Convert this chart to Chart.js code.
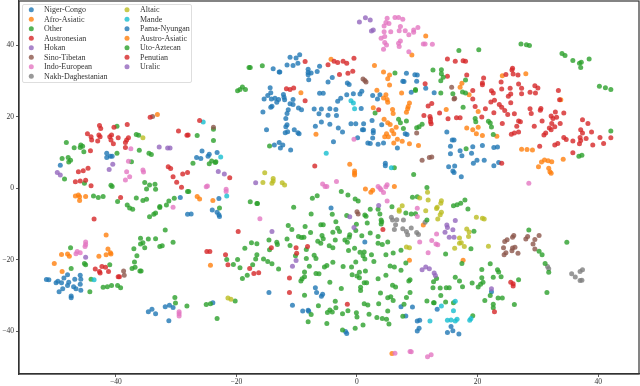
<!DOCTYPE html>
<html>
<head>
<meta charset="utf-8">
<script src="https://cdn.jsdelivr.net/npm/chart.js"></script>
<style>
  html, body { margin: 0; padding: 0; background: #fff; }
  canvas { display: block; }
</style>
</head>
<body>
<canvas id="chart" width="640" height="386"></canvas>
<script>
const categories = ['Niger-Congo', 'Afro-Asiatic', 'Other', 'Austronesian', 'Hokan', 'Sino-Tibetan', 'Indo-European', 'Nakh-Daghestanian', 'Altaic', 'Mande', 'Pama-Nyungan', 'Austro-Asiatic', 'Uto-Aztecan', 'Penutian', 'Uralic'];
const colors = ['#1f77b4', '#ff7f0e', '#2ca02c', '#d62728', '#9467bd', '#8c564b', '#e377c2', '#7f7f7f', '#bcbd22', '#17becf', '#1f77b4', '#ff7f0e', '#2ca02c', '#d62728', '#9467bd'];
const xTicks = [-40, -20, 0, 20, 40];
const yTicks = [-40, -20, 0, 20, 40];

const nigerCongo = [[-41.5,9.8],[-41.5,8.6],[-40.9,8.9],[-40.6,8.9],[-49.2,6.4],[-25.7,10.4],[-26.6,8.6],[-25.9,8.3],[-24.5,9.5],[-24.7,8.9],[-29.3,-2.6],[-24,-6.1],[-28.1,-7.3],[-27.5,-7.2],
  [-34.6,-34.5],[-34,-33.8],[-33.4,-35.1],[-31.8,-33.1],[-31.1,-32.7],[-30.5,-33.3],[-31.2,-37],[-23.9,-32],
  [-11.1,36.6],[-10.1,36.4],[-9.5,37.3],[-11.6,34.4],[-10.6,34.3],[-9.8,34.9],[-13.9,33.4],[-12.9,32.5],[-12.8,32.5],[-8.1,33.2],[-6.2,34.1],[-6.6,32.6],[-8.1,32.3],[-8.1,31.7],[-7.6,32.2],[-8,30.3],[-4.1,30.9],[-4.8,29.7],[-1.6,29.4],[-1.3,29],
  [-14.4,28.1],[-14.3,26.7],[-14.8,25.9],[-15.4,24.9],[-14.2,24.9],[-13.6,25.1],[-13,24.8],[-13.3,24],[-12.2,26.2],[-12.1,25.4],[-12,24.7],[-10.6,24.8],[-11.1,23.6],[-10.6,23.4],[-14.1,22.9],[-14.3,22.6],[-15.6,21.3],[-11.4,21.9],[-11.6,20.9],[-11.8,19.5],[-9.7,22.4],[-9.2,21.9],[-11.6,17.7],
  [-6.2,26.5],[-5.6,26.5],[-2.7,25.1],[-3.2,24.3],[-1.7,26.1],[-0.6,26.4],[0.5,26.3],[0.8,27.1],[2.6,25.9],[3.8,26.1],[3.4,24.9],[-7.1,22.1],[-5.9,22.1],[-6.3,20.8],[-4.5,22.2],[-4.8,20.4],[-3.5,22],[-3.4,20.3],[0.7,22.3],[2.5,18.9],[-5.9,18.5],[-4.5,17.9],[-1,18],[-0.2,18],[1.1,18],
  [7.6,29.9],[7.8,29.8],[8.2,32.1],[9.6,31.7],[10,31.6],[9.9,29.9],[9,26.8],[11.4,27.9],[12.8,26.7],
  [-23.2,10],[-15,16.3],[-11.8,17.2],[-11.9,15.5],[-11.5,15.8],[-10.4,16.3],[-9.8,15.5],[-9.6,15.2],[-12.9,12.8],[-12.3,12.1],[-13.7,12.1],[-12.7,11.2],[-11,10.7],[-6.9,17.3],[-3.1,16.8],[-2.4,15.7],[-3.9,13],[0.9,16.3],[1.1,16.3],[2.7,16.1],[2.7,15.5],[0.1,14.1],[2.6,14],[1.8,12.6],[2.2,12.5],[3.5,12.3],[4.4,12.6],[4.1,17.7],[6.7,11.2],[8,15.2],[8.3,15],[4.7,7],[4.7,6.3],
  [-22.9,-2.9],[-23.2,-6.7],[-22.9,-7.4],[-22.8,-7.9],[-4.3,-5.5],[1.3,-15],
  [-14.6,-29.1],[-10.7,-32.7],[-6.9,-27.8],[-6.7,-29.1],[-5.7,-29.6],[-5.9,-30.2],[-9,-34.3],[-8.1,-34.1],[-8,-34.4],[-1.9,-40],[-1.7,-40.6],[7.3,-33.1],[9.2,-33.2],[8.1,-35.7],[10,-37.1],[10.4,-36.9],[10.3,-39.1],[10,-39.9],
  [22.3,-28.9],[13.3,-33.8],[15.6,-38.6],[15.9,-39.8],[15,-40.3],[16.9,-40.7],
  [14.9,15.7],[15.8,13.5],[16.1,13.5],[15.5,11.7],[15.5,9.6],[17.1,10.5],[17.4,9.1],[19.2,11.6],[19,9.8],[20.8,11.9],[22.7,11.4],[23.3,11.5],[19.9,7.8],[19.3,7],[21.1,7.8],[23.5,7.2],[22.7,6.3],[15.2,6],[16.2,6.2],[15.9,4.8],[16.1,4.4],[17.3,3.2]];
const afroAsiatic = [[-4.3,36],[2.9,34.3],[4.4,32.5],[5.4,31.6],[5.1,30.6],[5.4,28.8],[3.3,27.4],[7.4,26.6],[4.8,26.1],[4.4,25.2],[5,24.8],[5.1,24],[8.7,23.8],[8.5,22.8],[8.4,22.2],[8.2,21.2],[2.7,22.5],[5.9,22],[6,20.9],[4.5,19.3],[5.1,18.3],[5.5,17.8],[-9.3,26.7],[9.1,37.2],[11.4,42.5],
  [-6.8,15.1],[4.6,14.4],[4.9,15.2],[5.2,14.4],[5.8,16.1],[6.1,15.2],[6.5,17],[6.7,13.7],[7.5,13.1],[6.1,12.6],[8.7,12.4],[10.2,11.9],[-1.2,6.7],[-0.4,4.8],[-0.4,4.2],[-0.4,3.7],[1.4,-0.2],[2.6,-0.6],[2.3,-1.1],[6.2,0.5],[11,-10.3],
  [8.7,-20.1],[5.8,-46.2],[17.6,-20.1],
  [23.2,14.5],[19.2,16.3],[19.8,15.2],[20.1,17],[20.8,14.7],[18.2,16.8],[24.1,31.4],[28,32],[17.4,29.3],[17.1,28.2],[18.6,26.1],[14.8,22],[20.1,21.4],[33.8,24.7]];
const other = [[-39.8,17.3],[-36.6,15],[-36.2,14.8],[-26.5,14.7],[-23.8,13.3],[-48.2,12.8],[-45.8,12.1],[-45.5,11.7],[-46.9,11.3],[-45.9,11.4],[-45.3,10.2],[-39.8,9.8],[-36.1,10.6],[-34.5,9.8],[-34.1,9.4],[-48.9,8.3],[-47.9,8.6],[-47.5,7.8],[-47.8,7.3],[-37.4,7.4],[-27.2,7],[-24.5,6.8],[-24.1,7.6],[-23.5,7.2],[-48.5,2.6],[-45.2,1.4],[-35.2,1.6],[-34.4,0.9],[-33.5,1.1],[-40.8,0.8],[-40.6,0.5],[-34.9,-0.2],[-33.4,-0.3],[-28.1,-0.9],[-27.9,-0.9],[-43.7,-2.2],[-42.9,-2.6],[-42.1,-2.3],[-39.7,-3.7],[-36.6,-2.7],[-35.5,-3.4],[-34.9,-3.1],[-30.3,-2.8],[-31.2,-3.6],[-32.7,-5.1],[-32.7,-5.4],[-31.6,-4.7],[-38.1,-4.7],[-37.7,-5.5],[-37.2,-5.9],[-34.4,-8],[-33.7,-7.3],[-33.4,-6.9],[-31.8,-11.7],[-35.9,-14],[-34.6,-14.2],[-33.4,-14.1],[-35.5,-15.2],[-35.9,-15.6],[-30.5,-15.1],[-32.7,-16.3],[-32.3,-16.1],[-35.2,-16.6],[-37,-16.9],[-47.5,-16.6],
  [-47.4,-22.4],[-45.2,-21],[-45,-21.4],[-41,-21.4],[-44.1,-25.4],[-44.3,-28.9],[-42.1,-27.7],[-41.4,-27.5],[-40.7,-27.2],[-39.7,-27.2],[-39.2,-27.8],[-36.5,-18.9],[-36.9,-20.6],[-37.3,-22.4],[-36.8,-22.1],[-36,-23.1],[-35.8,-23.1],[-30.2,-30.5],[-30.1,-32.1],[-28.2,-32.9],[-25,-32.5],[-24.3,-32.3],
  [6.3,32.2],[9.7,27.6],[9.7,27.3],[3,21],[6.9,19.3],[7.2,18.3],[8.2,18.8],
  [-14.5,11.8],[-23.8,16.5],[-23.4,7.4],[9.9,16.9],[10.3,17.2],[10.8,17.9],[7.7,16.7],[6.2,5.7],[9.4,3.8],[-2.6,-0.9],[-1.5,-1.9],[-7.4,-2.8],[-6.6,-2.1],[-0.3,-3],[0.2,-3.6],[-17.7,-3.8],[-16.6,-4.3],[-16.5,-4.3],[-10.5,-5.3],[-22.8,-5.5],[-7.6,-7.2],[-4.1,-7.3],[-1.7,-7.6],[2.2,-5.9],[3.5,-5.9],[3.8,-7.2],[5.8,-5.2],[8.1,-6.9],[9,-7.2],[9.7,-7.1],[9.2,-2.5],[10,-2.4],[1.3,-7.5],[1.5,-7.8],[-3.5,-9.4],[-6,-10.2],[-5.6,-10.2],[1.7,-9.7],[4,-8.9],[4.1,-9.4],[4,-10],[-11.4,-10.4],[-10.8,-11.5],[-8.6,-10.7],[-7.7,-12.4],[-3.2,-11.2],[-2.9,-12.1],[-4,-12.3],[-0.1,-10.1],[-0.2,-11.8],[-1.2,-13],[-1.3,-13.7],[-2,-14.5],[-1.6,-15.1],[-3.6,-14.5],[-5.8,-13.2],[-5.6,-14.1],[-6.5,-14.8],[-6,-15.4],[-9.7,-13.5],[-9.2,-13.8],[-8.8,-13.7],[-11.6,-14.2],[-14.6,-14.5],[-13.3,-15.1],[-13.2,-15.7],[-17.5,-15.2],[-16.6,-15.5],[0.8,-13.3],[2.2,-12.5],[3.5,-13.5],[5.1,-15],[4.2,-15.7],[3.5,-15.4],
  [-18.6,-16.8],[-16.6,-18.6],[-16.8,-19.8],[-19.8,-19.9],[-21.6,-19.9],[-20.5,-21.3],[-19.4,-22.2],[-17.3,-21.4],[-15.5,-19.8],[-14.8,-20.5],[-14.1,-21.1],[-13,-22.6],[-18.2,-24.3],[-19,-25.2],[-8.7,-23.4],[-8.7,-24.7],[-9.1,-25.3],[-9.3,-25.9],[-7.9,-21.8],[-8.4,-19.6],[-10.2,-18.9],[-7.1,-18.7],[-6.8,-19.6],[-8.4,-17.1],[-14.5,-17.2],[-11.1,-16],[-4.6,-16.1],[-4,-16.6],[-1.4,-17.4],[-0.4,-16.8],[0.5,-17.9],[1.2,-17.8],[1,-18.9],[1.3,-19.8],[2.4,-18.6],[2.8,-20.5],[4.8,-18.6],[6,-18.1],[7.3,-17.3],[8.1,-20.9],[5.5,-21.7],[6.2,-22],[7.3,-22.9],[4.8,-24.3],[3.5,-25.3],[1.4,-23.1],[0.4,-23.5],[-0.8,-24.2],[0,-24.5],[0.4,-25],[-0.2,-20.6],[-0.9,-22],[-2.3,-21.9],[-4,-20.7],[-5,-21.6],[-5.4,-22],[-6.8,-23.8],[-6.3,-23.9],[-4.5,-26.3],[1.2,-26.4],[1.6,-26.4],[0.6,-27.7],[0.6,-28.6],[-2.6,-28],[-8.7,-29.9],[3.9,-29.3],[5.9,-27.1],[6.4,-27.6],[8.6,-25.9],[8.8,-25.6],[8.8,-29.1],[5.1,-30.6],[5.6,-30.3],[6,-31.4],[8.2,-30.5],[7.8,-32.4],[3.6,-32.3],[1.2,-32.3],[1.8,-32.6],[-3.6,-31.6],[-3.5,-33.4],[-6.4,-32.8],[-4.5,-34],[-4.9,-34.7],[-4.1,-34.6],[-2.4,-35.1],[-1.5,-34.2],[-0.1,-34.8],[0,-36],[2,-35.2],[3.3,-36.1],[4.2,-36.4],[4.9,-36.6],[5.1,-34.3],[5.3,-37.9],[7.6,-35.8],[1,-38.2],[-0.3,-39.1],[-2.4,-39.6],[-5,-37.8],[-8.1,-37.3],[-7.6,-35.3],[-20.2,-31.5],[-23.2,-36.4],
  [14.7,-18.4],[18.9,-16.9],[17.4,-21],[22.1,-21.1],[20.7,-22.7],[23.3,-22.8],[23.5,-23.4],[20.7,-25],[22.6,-24.9],[23.9,-24.7],[13.2,-25.2],[12.7,-26.1],[16.3,-24.9],[17,-25.9],[19.1,-26.5],[20.9,-26.3],[20.5,-26.8],[20.1,-27.6],[17.5,-27.5],[12.6,-27.8],[13.8,-27.9],[14.8,-27.8],[15.3,-27.8],[13.9,-30],[11.6,-31.5],[12.7,-32],[12.8,-32],[14.7,-31.8],[16,-32],[22.1,-30],[23.4,-30.7],[24.1,-30.7],[21.2,-31.4],[22.6,-32.4],[22.6,-33.4],[26.1,-32.5],[26.8,-25.6],[19.2,-35.6]];
const austronesian = [[15,36.1],[16.3,35.5],[17.6,35.6],[18,35.5],[11.3,29.2],[15,31.3],[18.2,31.6],[21,30.8],[20.8,29.4],[20.8,28.9],[19.2,27.3],[19.2,24.9],[19.6,22.8],[12.4,23.7],[11.8,23],[11.1,20.3],[12.1,20],[12.2,19.4],[12.2,18.6],[12.3,18],[13.7,21],[15.1,19.4],[16.5,19.7],[17.1,19.7],[20.7,19.9],[21.3,22.2],[22.7,21.1],[22.2,24.1],[22.8,24.6],[22.3,27.2],[22.6,26.6],[23.9,29.7],[24.7,31.8],[25.8,33.5],[25.7,33],[25.9,31.9],[26.7,31.6],[24,27.7],[25.4,27.9],[25.5,26.3],[25.1,25.7],[25.5,23.9],[23.6,23.4],[24,22.6],[24.5,21.7],[25,20.6],[26.1,20.8],[24.1,18.1],[26.8,18.8],[27.1,18.6],[26.8,29.1],[27.3,27.9],[27.3,26.4],[28.7,26.8],[29.6,26.6],[29.5,28.6],[30,28],[28.7,22.2],[28.9,20.9],[30.5,22.3],[30.4,21.8],[30.7,18.8],[33.4,27.3],[33.6,24.7],[32.9,21.3],[34.3,21],[32.2,20.2],[32.5,19.5],[33.1,19.8],[32.3,18.1],[33.7,18.1],[37.4,19.1],[38.3,18.1],
  [24,7],[25.6,15.1],[26.1,15.4],[26.8,15.7],[31,14.9],[31.3,15.4],[34.3,14.2],[34.7,13.6],[35.8,13.2],[37,14.2],[37.1,13.3],[36.9,12.4],[37.4,15.4],[37.1,16.3],[38,13.9],[38.9,15.7],[40.3,14.2],[39.1,12.1],[40.9,12.5],[42.1,14.1],[32.8,12.1],[33.3,12.5],[30.3,11.7],[35.8,9.9],[26.5,17.3],[29.4,17.3],[31.9,16.8],[32.2,16.3],[32.8,17.2]];
const hokan = [[-32.8,11.5],[-31.4,11.2],[-31,11.2],[-40.5,6.7],[-41.1,5.2],[-49.7,4.4],[-49.2,3.7],[-45,-19.3],[-23,4.7],[-22,4],[-16.8,1.5],[-14.1,-12.1],[3.6,-4.8],[-1.2,-8],[-0.5,-11],[-10.7,-21.8],[-10.1,-20.2],[10.8,-22.8],[11.4,-22],[12,-22.5],[12.8,-23.7],[13,-24.4],[22.3,-28.1]];
const sinoTibetan = [[-33.9,20],[-38.7,-23.1],[-38.6,-24.3],[1,30.5],[1.3,30.1],[1.5,29.7],[-23.8,17],[9.9,15.4],[10.8,7.8],[0,-6.6],[0.2,-7.2],[15.7,28.2],[16.2,25.1],[16.1,24.9],[12,8.6],[12.4,8.7],
  [24.4,-18.6],[24.7,-18],[25.7,-17.5],[25.8,-16.7],[26.2,-16.5],[26.7,-18.2],[24.3,-16.6],[29.5,-17],[26,-13.2],[25.8,-13.7],[24.9,-14.4],[24.5,-14.9],[28.3,-13.5],[28,-14.2],[29.5,-14.3],[30.2,-13.2],[29.2,-15.6]];
const indoEuropean = [[-37.5,11],[-37.9,7.5],[-38.2,4.6],[-35.5,5.1],[-35.4,4.5],[-37.7,3.2],[-38.4,2.3],[-25,0.4],[-24.8,0.6],[-30.5,-5.3],[-45,-15],[-45,-15.7],[-45.1,-16.3],[-46.4,-17.7],[-46.6,-18.3],[-45.9,-18],[-29.5,-34.5],[-29.5,-35.1],[-29.5,-35.7],
  [5,47.5],[6.3,47.7],[6.9,47.7],[7.6,47.2],[4.8,46.3],[5.3,46],[4.5,45.3],[7.2,45.2],[10.1,44.9],[8,44],[7,44],[9.4,44.2],[9.4,43.6],[4.5,43.7],[5.6,43.7],[8.6,42.9],[4.6,42.4],[4,41.9],[4.6,40.7],[4.9,40],[6.9,40.5],[7.2,41.1],[7,39.6],[4.4,38.8],[8.6,38.1],[11,40.3],[11.3,40.3],[12.5,40.2],
  [-21.7,-0.3],[-21.7,-0.9],[-16.1,-8.5],[-0.5,13.7],[-3.4,1.9],[-5.7,1.2],[-5.3,0.5],[-5,0.5],[3.5,0.5],[3.8,0],[4,-0.4],[4.8,0.4],[5,1],[4.4,-1.2],[5,-3.6],[10,-5.6],[10,-7.9],[10.4,-15],
  [6.3,-46.1],[8.8,-45.6],[9,-45.7],[11.8,-18],[11.7,-47.1],[12.3,-46.5],[28.5,1.4],[13.2,-12.8],[12.4,-14.6],[13.1,-15.6],[13.4,-15.8]];
const nakhDaghestanian = [[5.7,-8.1],[5.9,-8.9],[6.6,-8.8],[7.7,-8.9],[6.4,-10.2],[6.2,-11.5],[7.6,-11.3],[8.2,-12.1],[9,-11.1],[8.4,-13],[9.9,-12.4],[10.2,-12.9],[11.3,-9.5],[31.6,-21.9],[31.8,-22.5],[35.6,-23.9],[36.2,-24.8],[37,-23.3],[37.4,-22.8],[37,-25.8],[37.3,-25.7]];
const altaic = [[-35.5,14.1],[-15.3,4.3],[-15.6,1.6],[-13.9,2.7],[-13.9,2],[-14.1,1.4],[-12.4,1.5],[-12,0.9],[7.5,-4.9],[7,-6],[7,-6.4],[10.4,-2.7],[-21.4,-30.7],[-20.9,-31],[8.2,-16.4],[8.7,-16.6],[16.2,-16.8],[17.8,-16.3],[21.8,-16.2],
  [11.7,-1.1],[11.8,-3.3],[14,-3.5],[13.9,-4.2],[13.3,-5.3],[13.2,-5.7],[11.4,-6.3],[14,-6.7],[13.8,-7.4],[13.4,-8.6],[19.8,-8.1],[20.8,-8.4],[21.1,-8.6],[18.2,-11.4],[18.6,-12.2],[18.5,-13.5],[17,-13.9],[17,-15.4],[17.3,-15.2]];
const mande = [[-25.5,18.5],[-43.6,-25.6],[-1,24.4],[-0.6,23.8],[-0.4,22.2],[-22.6,8.7],[-5.1,9.8],[5.7,5.7],[-21.6,-2.2],[16.3,-31.6],[14,-32.9],[16,-34.2],[12.1,-37.1],[15,-36.9],[15.6,-36.8],[16.3,-37.1],[16.6,-36.6],[18.7,-36.9],[18.9,-36.4]];
const pamaNyungan = [[-51.5,-25.5],[-51.1,-25.6],[-49.9,-26.4],[-49.6,-26],[-49,-26.4],[-48.6,-25.1],[-48,-24.2],[-45.9,-24.3],[-45.8,-25.4],[-46.8,-25.4],[-47.8,-26.3],[-48,-27.2],[-45.9,-26.8],[-47,-27.5],[-46.6,-28.1],[-45.8,-28.5],[-48.8,-28.1],[-49.4,-28.9],[-47.4,-30.1],[-47.4,-30.6]];
const austroAsiatic = [[-46.7,-2.2],[-46.2,-1.9],[-46,-2.4],[-46,-3.4],[-45,-2.3],[-26.5,-2.3],[-26.1,-3],[-23.9,-3.4],[-41.6,-13.1],[-49,-18.5],[-48,-18.4],[-47.7,-19],[-50.2,-21],[-48.9,-23.3],[-42.8,-19],[-41.6,-18.6],[-41.3,-17],[-40.9,-18],[-40.8,-18.4],[-24.3,-21.5],[-33.1,20.6],
  [27.3,10.9],[28.2,10.8],[29.1,10.7],[34.2,8.1],[30.6,7.3],[31.1,7.9],[31.7,7.7],[32.3,7.4],[30.1,6],[31.8,5.6],[32,4.6],[32.2,4.2]];
const utoAztecan = [[-17.9,33.7],[-17.7,33.7],[-15.7,34.2],[-19.8,27.2],[-19.4,27.6],[-19,28.3],[-18.5,27.6],
  [16.9,38.5],[20.2,38.7],[27.2,40.3],[28.1,40.1],[28.6,39.9],[34,37.6],[34.5,37.1],[35.8,35.7],[36.9,34.9],[37.2,35.2],[37.1,33.7],[38.5,36.1],[40.2,28.5],[41.2,28.1],[42.1,27.6],[12.6,33],[14,33.1],[14,32],[14.3,31],[13.9,30],[18,30.2],[13.9,26.6],[15.9,26.4],[17.5,26.9],[18,26.6],[17.6,22.6],[19.6,19.5],[19.7,18.6],[21.8,18.7],[22.1,18.2],[22.3,17.1],
  [18.1,11],[22.6,15],[42.1,16],[36.8,8.9],[37.3,9.2],[11.6,0.2],[17.9,-3.3],[17.2,-4.2],[16.6,-4.6],[16,-4.9],[18.4,-5.8],[11.6,-8.9],[19.4,-12],[28.5,-11.7],[34.8,-15.1],
  [30.2,-17.6],[30.7,-18.6],[31.2,-21],[31.8,-23.5],[31.5,-29.1]];
const penutian = [[-42.7,17.5],[-42.5,16.7],[-40.3,17],[-38.1,17.8],[-29.6,16],[-28.2,14.8],[-28,14.9],[-44.7,15.2],[-44.1,14.4],[-44,13.5],[-42.8,14.9],[-42.6,14.4],[-43,13.2],[-40.7,14.9],[-41,14.4],[-40.8,13.5],[-39.6,14.1],[-40.4,12.4],[-37.9,14.1],[-38.2,13.5],[-38.4,12.8],[-38.4,11.4],[-44.2,10.5],[-31.3,6],[-30.9,5.5],[-28.9,4],[-28.1,4.4],[-30.5,3.2],[-29.9,1.7],[-29.1,0.3],[-44.6,5.6],[-45.4,4.9],[-46.2,4.6],[-46.7,1.8],[-45.9,2],[-45,2.2],[-44.1,0.7],[-39.2,-2.6],[-43.6,-8.6],[-34.3,19.8],[-26.1,18.9],
  [-43.4,-22.6],[-42.3,-21.9],[-41.7,-22.1],[-42.7,-23.3],[-42.6,-23.7],[-41.2,-23.3],[-39.6,-24.7],[-39.4,-24.7],[-24.9,-17.7],[-24.4,-17.7],
  [-8.6,35.4],[-4.8,34.5],[-3.8,35.5],[-3.2,35.1],[-2.3,35.5],[-1.7,34.9],[-0.5,36.3],[-2.9,31.8],[-1.5,32.1],[-0.7,32.7],[-11.7,27.8],[-11.1,27.6],[-10.5,28],[-8.6,24.4],[3.6,21.9],
  [-21.1,2.9],[-7,6.2],[-19.7,-12.1],[4.3,-11.5],
  [-14.2,-16.6],[-10.1,-16.6],[-8.2,-16.3],[-10,-18.2],[-21.8,-18.6],[-21.4,-21.4],[-17.8,-22.4],[-17.1,-23.8],[-16.3,-23.6],[-11.2,-25.1],[-11.2,-29.1],[-1.6,-32.4],
  [22.8,-34.5],[25.5,-26.3],[25.9,-26.7],[25.9,-27.3]];
const uralic = [[0.4,46.4],[1.4,47.6],[2.2,47],[2.4,43.9],[2.7,44.2],[16.3,-9],[14.9,-10.3],[15,-11],[15.9,-11.6],[14.6,-12.3],[15.3,-13.7],[16.1,-13.7]];

const seriesValues = [nigerCongo, afroAsiatic, other, austronesian, hokan, sinoTibetan, indoEuropean, nakhDaghestanian, altaic, mande, pamaNyungan, austroAsiatic, utoAztecan, penutian, uralic];

const textColor = '#333';
const labelFont = '"Liberation Serif", serif';
const minusLabel = value => String(value).replace('-', '\u2212');

// matplotlib style box: the full frame plus a two column legend inside the axes
const frameAndLegend = {
    id: 'frameAndLegend',
    afterDraw(chart) {
        const { ctx, chartArea: area } = chart;
        ctx.save();
        ctx.strokeStyle = '#333';
        ctx.lineWidth = 1.2;
        ctx.strokeRect(area.left, area.top, area.right - area.left, area.bottom - area.top);

        ctx.beginPath();
        ctx.roundRect(22.5, 4.5, 169, 78, 1.5);
        ctx.fillStyle = 'rgba(255,255,255,0.8)';
        ctx.fill();
        ctx.strokeStyle = '#d6d6d6';
        ctx.lineWidth = 0.8;
        ctx.stroke();

        ctx.font = '8px ' + labelFont;
        ctx.textBaseline = 'middle';
        categories.forEach((name, i) => {
            const col = i < 8 ? 0 : 1;
            const row = i < 8 ? i : i - 8;
            const y = 9.7 + row * 9.52;
            ctx.beginPath();
            ctx.arc(col ? 127 : 31.3, y, 2.5, 0, Math.PI * 2);
            ctx.fillStyle = colors[i] + 'cc';
            ctx.fill();
            ctx.fillStyle = textColor;
            ctx.fillText(name, col ? 140 : 44, y + 0.3);
        });
        ctx.restore();
    }
};

// tick labels must not push the plot area in, the frame runs right to the edges
const clearPadding = scale => {
    scale.paddingLeft = scale.paddingRight = scale.paddingTop = scale.paddingBottom = 0;
};

new Chart(document.getElementById('chart'), {
    type: 'scatter',
    data: {
        datasets: categories.map((name, i) => ({
            label: name,
            data: seriesValues[i].map(p => ({ x: p[0], y: p[1] })),
            backgroundColor: colors[i] + 'cc',
            borderWidth: 0,
            pointRadius: 2.5,
            order: categories.length - i
        }))
    },
    options: {
        responsive: false,
        animation: false,
        layout: { autoPadding: false, padding: { top: 1, right: 1, left: 0, bottom: 0 } },
        plugins: { legend: { display: false }, tooltip: { enabled: false } },
        scales: {
            x: {
                type: 'linear',
                min: -56.05,
                max: 46.77,
                afterBuildTicks: scale => { scale.ticks = xTicks.map(value => ({ value })); },
                afterFit: scale => { scale.height = 12; clearPadding(scale); },
                border: { color: '#333', width: 1.2 },
                grid: { drawOnChartArea: false, tickLength: 3, tickColor: '#333', tickWidth: 0.8 },
                ticks: { color: textColor, font: { family: labelFont, size: 7.5 }, padding: 1, maxRotation: 0, autoSkip: false, callback: minusLabel }
            },
            y: {
                type: 'linear',
                min: -51.9,
                max: 52.3,
                afterBuildTicks: scale => { scale.ticks = yTicks.map(value => ({ value })); },
                afterFit: scale => { scale.width = 19; clearPadding(scale); },
                border: { color: '#333', width: 1.2 },
                grid: { drawOnChartArea: false, tickLength: 3, tickColor: '#333', tickWidth: 0.8 },
                ticks: { color: textColor, font: { family: labelFont, size: 7.5 }, padding: 2, autoSkip: false, callback: minusLabel }
            }
        }
    },
    plugins: [frameAndLegend]
});
</script>
</body>
</html>
